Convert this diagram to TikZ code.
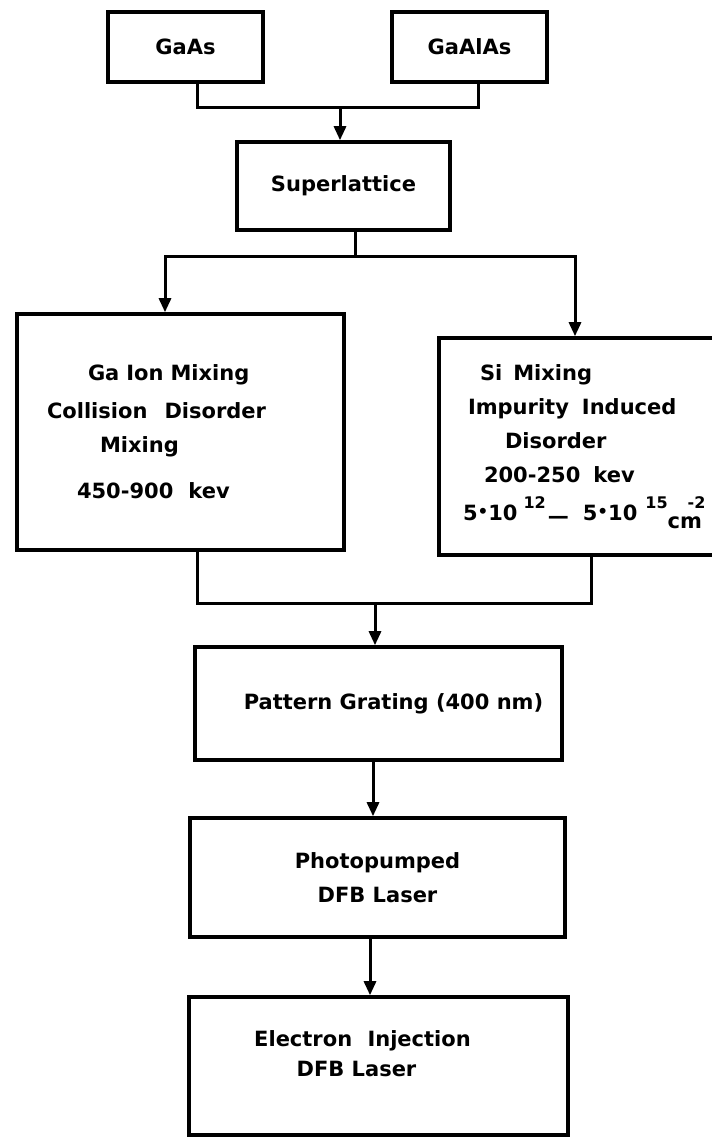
\documentclass[tikz,border=0pt]{standalone}
\usepackage{fontspec}
\setmainfont{DejaVu Sans}
\usetikzlibrary{arrows.meta,positioning}
\newcommand{\mdot}{\raisebox{0.25ex}{\scalebox{0.8}{•}}}
\newcommand{\upnum}[1]{\raisebox{12pt}{\fontsize{16}{16}\selectfont #1}}

\begin{document}
\begin{tikzpicture}[x=1pt,y=-1pt,box/.style={draw,line width=3.6pt,align=center,inner sep=0pt,font=\fontsize{21}{34}\selectfont\bfseries},link/.style={line width=3pt},arr/.style={link,-{Triangle[length=14pt,width=12pt]}}]
\useasboundingbox (0,0) rectangle (712,1138);
\node[box,minimum width=155pt,minimum height=70pt] (gaas) at (185.5,47) {GaAs};
\node[box,minimum width=155pt,minimum height=70pt] (gaalas) at (469.5,47) {GaAlAs};
\node[box,minimum width=213pt,minimum height=88pt] (superlat) at (343.5,186) {Superlattice};
\node[box,minimum width=327pt,minimum height=236pt,text width=327pt,align=left] (ionmix) at (180.5,432) {\hspace*{71pt}Ga Ion Mixing\\[4pt]\hspace*{30pt}Collision\hspace{10pt} Disorder\\\hspace*{83pt}Mixing\\[12pt]\hspace*{60pt}450-900\hspace{8pt} kev};
\node[box,minimum width=279pt,minimum height=217pt,text width=279pt,align=left] (simix) at (578.5,446.5) {\hspace*{41pt}Si\hspace{4pt} Mixing\\\hspace*{29pt}Impurity\hspace{6pt} Induced\\\hspace*{66pt}Disorder\\\hspace*{45pt}200-250\hspace{6pt} kev\\[4pt]\hspace*{24pt}5\mdot10\hspace*{6pt}\upnum{12}\hspace*{2pt}\raisebox{-3pt}{—}\hspace*{14pt}5\mdot10\hspace*{8pt}\upnum{15}\makebox[0pt][l]{\raisebox{-8pt}{cm}}\hspace*{20pt}\upnum{-2}};
\node[box,minimum width=367pt,minimum height=113pt] (grating) at (378.5,703.5) {\hspace*{30pt}Pattern Grating (400 nm)};
\node[box,minimum width=375pt,minimum height=119pt] (photo) at (377.5,877.5) {Photopumped\\DFB Laser};
\node[box,minimum width=379pt,minimum height=138pt,text depth=24pt] (inject) at (378.5,1066) {\hspace*{-32pt}Electron\hspace{8pt} Injection\\[-4pt]\hspace*{-44pt}DFB Laser};
% joins
\coordinate (topjoin) at (340,107);
\coordinate (split) at (355,256);
\coordinate (merge) at (375,603);
\draw[link] ([xshift=11.5pt]gaas.south) |- (topjoin) -| ([xshift=8.5pt]gaalas.south);
\draw[arr] (topjoin) -- (topjoin |- superlat.north);
\draw[link] ([xshift=11.5pt]superlat.south) -- (split);
\draw[arr] (split) -| ([xshift=-15.5pt]ionmix.north);
\draw[arr] (split) -| ([xshift=-3.5pt]simix.north);
\draw[link] ([xshift=16.5pt]ionmix.south) |- (merge) -| ([xshift=12.5pt]simix.south);
\draw[arr] (merge) -- (merge |- grating.north);
\draw[arr] ([xshift=-5.5pt]grating.south) -- ([xshift=-4.5pt]photo.north);
\draw[arr] ([xshift=-7.5pt]photo.south) -- ([xshift=-8.5pt]inject.north);
\end{tikzpicture}
\end{document}
